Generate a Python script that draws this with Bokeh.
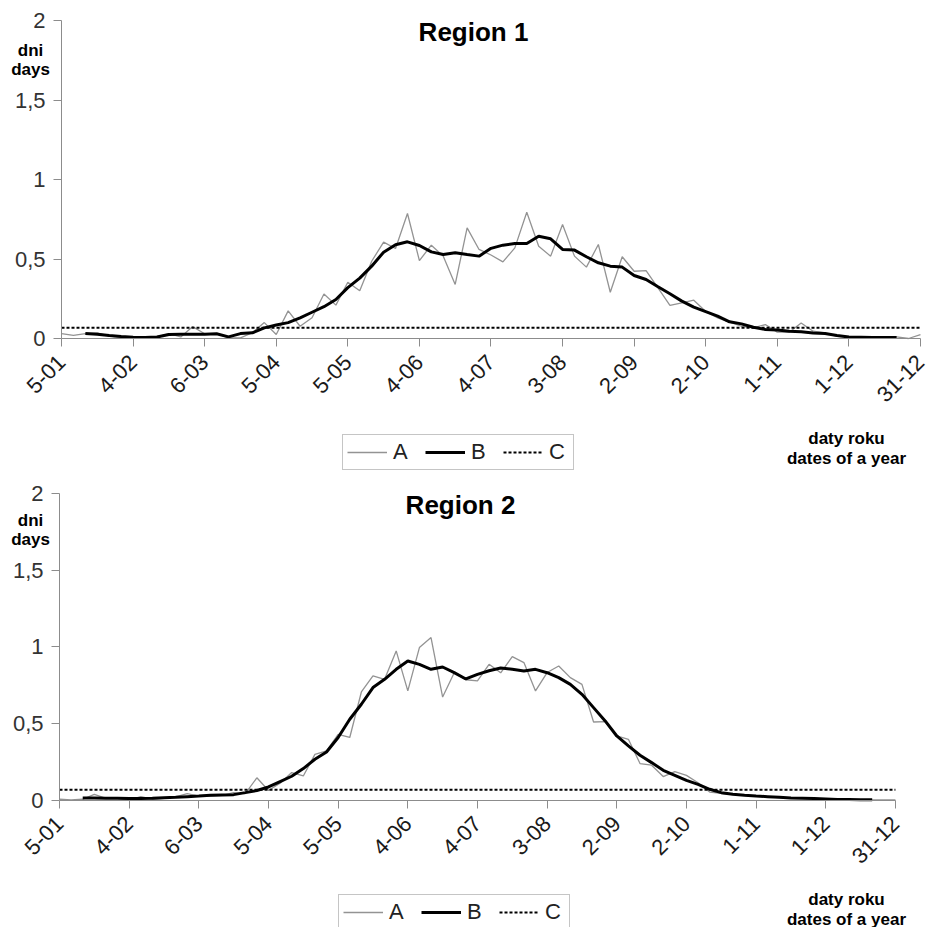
from math import pi
from bokeh.plotting import figure
from bokeh.models import FixedTicker, Legend, LegendItem, Label, Range1d
from bokeh.layouts import column
from bokeh.embed import file_html
from bokeh.resources import INLINE

# ---------------- data ----------------
pentads = list(range(1, 74))                     # 73 five-day periods of the year
x_tick_pos = [1, 7, 13, 19, 25, 31, 37, 43, 49, 55, 61, 67, 73]
x_tick_labels = ["5-01", "4-02", "6-03", "5-04", "5-05", "4-06", "4-07",
                 "3-08", "2-09", "2-10", "1-11", "1-12", "31-12"]
y_ticks = [0, 0.5, 1, 1.5, 2]
y_tick_labels = ["0", "0,5", "1", "1,5", "2"]
series_names = ["A", "B", "C"]
c_level = 0.067

r1_a = [0.03, 0.02, 0.03, 0.035, 0.015, 0.008, 0.004, 0.004, 0.01, 0.03,
        0.01, 0.075, 0.03, 0.03, 0.004, 0.004, 0.036, 0.1, 0.025, 0.174,
        0.077, 0.13, 0.28, 0.21, 0.354, 0.30, 0.486, 0.606, 0.566, 0.786,
        0.49, 0.587, 0.518, 0.34, 0.696, 0.56, 0.525, 0.482, 0.57, 0.794,
        0.58, 0.518, 0.717, 0.518, 0.449, 0.591, 0.291, 0.514, 0.423, 0.427,
        0.319, 0.208, 0.224, 0.241, 0.17, 0.13, 0.103, 0.077, 0.067, 0.088,
        0.04, 0.04, 0.098, 0.046, 0.035, 0.014, 0.01, 0.01, 0.01, 0.01,
        0.01, 0.0, 0.025]
r1_b = [0.031, 0.027, 0.019, 0.013, 0.008, 0.006, 0.01, 0.025, 0.027, 0.027,
        0.027, 0.03, 0.01, 0.031, 0.036, 0.067, 0.085, 0.10, 0.13, 0.165,
        0.20, 0.245, 0.32, 0.38, 0.455, 0.543, 0.59, 0.608, 0.585, 0.545,
        0.528, 0.539, 0.528, 0.518, 0.567, 0.587, 0.597, 0.597, 0.643, 0.627,
        0.56, 0.556, 0.514, 0.476, 0.455, 0.449, 0.396, 0.371, 0.325, 0.281,
        0.235, 0.197, 0.169, 0.141, 0.105, 0.092, 0.071, 0.057, 0.053, 0.046,
        0.042, 0.035, 0.031, 0.019, 0.01, 0.008, 0.006, 0.006, 0.006]

r2_a = [0.005, 0.0, 0.005, 0.037, 0.011, 0.01, 0.0, 0.022, 0.005, 0.01,
        0.02, 0.041, 0.026, 0.026, 0.03, 0.048, 0.041, 0.145, 0.062, 0.11,
        0.179, 0.157, 0.298, 0.32, 0.429, 0.408, 0.705, 0.81, 0.788, 0.973,
        0.712, 0.995, 1.06, 0.672, 0.831, 0.785, 0.777, 0.886, 0.83, 0.936,
        0.897, 0.712, 0.832, 0.875, 0.799, 0.755, 0.509, 0.511, 0.418, 0.396,
        0.238, 0.227, 0.153, 0.185, 0.161, 0.113, 0.052, 0.044, 0.036, 0.03,
        0.025, 0.02, 0.016, 0.012, 0.01, 0.008, 0.006, 0.004, 0.003, 0.002,
        0.001, 0.0, 0.0]
r2_b = [0.013, 0.013, 0.011, 0.011, 0.009, 0.009, 0.011, 0.015, 0.018, 0.022,
        0.026, 0.031, 0.033, 0.035, 0.048, 0.062, 0.085, 0.12, 0.155, 0.205,
        0.266, 0.313, 0.408, 0.527, 0.625, 0.734, 0.788, 0.853, 0.907, 0.885,
        0.853, 0.868, 0.831, 0.79, 0.82, 0.844, 0.862, 0.853, 0.842, 0.853,
        0.831, 0.799, 0.755, 0.69, 0.603, 0.516, 0.418, 0.353, 0.292, 0.244,
        0.194, 0.161, 0.128, 0.102, 0.07, 0.048, 0.037, 0.031, 0.026, 0.022,
        0.018, 0.013, 0.011, 0.009, 0.007, 0.004, 0.003, 0.002, 0.002]

b_pentads = pentads[2:71]      # centred moving average: pentads 3..71

FONT = "Liberation Sans"


def make_panel(title, a_vals, b_vals, W, H, x0_px, px_per_x, y0_px, px_per_y,
               legend_loc, title_px, unit_py, note_px):
    """x0_px: pixel of pentad 1 from figure left; y0_px: pixel of value 0 from top."""
    xr = Range1d(1 - x0_px / px_per_x, 1 + (W - x0_px) / px_per_x)
    yr = Range1d(-(H - y0_px) / px_per_y, y0_px / px_per_y)
    p = figure(width=W, height=H, x_range=xr, y_range=yr,
               min_border_left=0, min_border_right=0,
               min_border_top=0, min_border_bottom=0,
               output_backend="svg", toolbar_location=None)
    p.title.visible = False
    p.outline_line_color = None
    p.xgrid.visible = False
    p.ygrid.visible = False
    p.background_fill_color = "white"
    p.border_fill_color = "white"

    ra = p.line(pentads, a_vals, line_color="#939393", line_width=1.3)
    rb = p.line(b_pentads, b_vals, line_color="black", line_width=3)
    rc = p.line(pentads, [c_level] * len(pentads), line_color="black",
                line_width=2, line_dash="3 2")

    # axes drawn at fixed data positions inside the frame
    xa = p.xaxis[0]
    xa.fixed_location = 0
    xa.bounds = (pentads[0], pentads[-1])
    xa.ticker = FixedTicker(ticks=x_tick_pos)
    xa.major_label_overrides = {t: l for t, l in zip(x_tick_pos, x_tick_labels)}
    xa.major_label_orientation = pi / 4
    xa.major_label_text_font = FONT
    xa.major_label_text_font_size = "22px"
    xa.major_label_text_color = "#1a1a1a"
    xa.major_label_standoff = 12
    xa.axis_line_color = "#8c8c8c"
    xa.major_tick_line_color = "#8c8c8c"
    xa.major_tick_out = 8
    xa.major_tick_in = 0
    xa.minor_tick_line_color = None

    ya = p.yaxis[0]
    ya.fixed_location = pentads[0]
    ya.bounds = (y_ticks[0], y_ticks[-1])
    ya.ticker = FixedTicker(ticks=y_ticks)
    ya.major_label_overrides = {t: l for t, l in zip(y_ticks, y_tick_labels)}
    ya.major_label_text_font = FONT
    ya.major_label_text_font_size = "22px"
    ya.major_label_text_color = "#333333"
    ya.major_label_standoff = 8
    ya.axis_line_color = "#8c8c8c"
    ya.major_tick_line_color = "#8c8c8c"
    ya.major_tick_out = 8
    ya.major_tick_in = 0
    ya.minor_tick_line_color = None

    def px_x(px):
        return 1 + (px - x0_px) / px_per_x

    def px_y(py):
        return (y0_px - py) / px_per_y

    # title inside the plot area
    p.add_layout(Label(x=px_x(title_px[0]), y=px_y(title_px[1]), text=title,
                       text_align="center", text_font=FONT,
                       text_font_style="bold", text_font_size="26px",
                       text_color="black"))
    # y axis unit label
    for txt, py in (("dni", unit_py), ("days", unit_py + 19)):
        p.add_layout(Label(x=px_x(30), y=px_y(py), text=txt, text_align="center",
                           text_font=FONT, text_font_style="bold",
                           text_font_size="17px", text_color="black"))
    # x axis unit label
    for txt, py in (("daty roku", note_px[1]), ("dates of a year", note_px[1] + 20)):
        p.add_layout(Label(x=px_x(note_px[0]), y=px_y(py), text=txt,
                           text_align="center", text_font=FONT,
                           text_font_style="bold", text_font_size="17px",
                           text_color="black"))

    legend = Legend(items=[LegendItem(label=series_names[0], renderers=[ra]),
                           LegendItem(label=series_names[1], renderers=[rb]),
                           LegendItem(label=series_names[2], renderers=[rc])],
                    orientation="horizontal", location=legend_loc,
                    label_text_font=FONT, label_text_font_size="22px",
                    label_text_color="#222222", label_height=22,
                    glyph_width=40, glyph_height=22, label_standoff=6,
                    spacing=12, padding=4, margin=0,
                    border_line_color="#8c8c8c", border_line_width=1,
                    background_fill_alpha=1.0)
    p.add_layout(legend, "center")
    return p


# panel 1: figure 927x477, pentad 1 at x=61, 11.93 px per pentad, 0 at y=338
p1 = make_panel("Region 1", r1_a, r1_b, 927, 477, 61, 11.93, 338, 159.0,
                (342, 7), (473, 46), 59, (846, 447))
# panel 2: figure 927x450, pentad 1 at x=59, 11.61 px per pentad, 0 at y=322.5
p2 = make_panel("Region 2", r2_a, r2_b, 927, 450, 59, 11.61, 322.5, 153.2,
                (338, -3), (460, 42), 52, (846, 431))

layout = column(p1, p2, spacing=0)
open("out.html", "w").write(file_html(layout, INLINE))
